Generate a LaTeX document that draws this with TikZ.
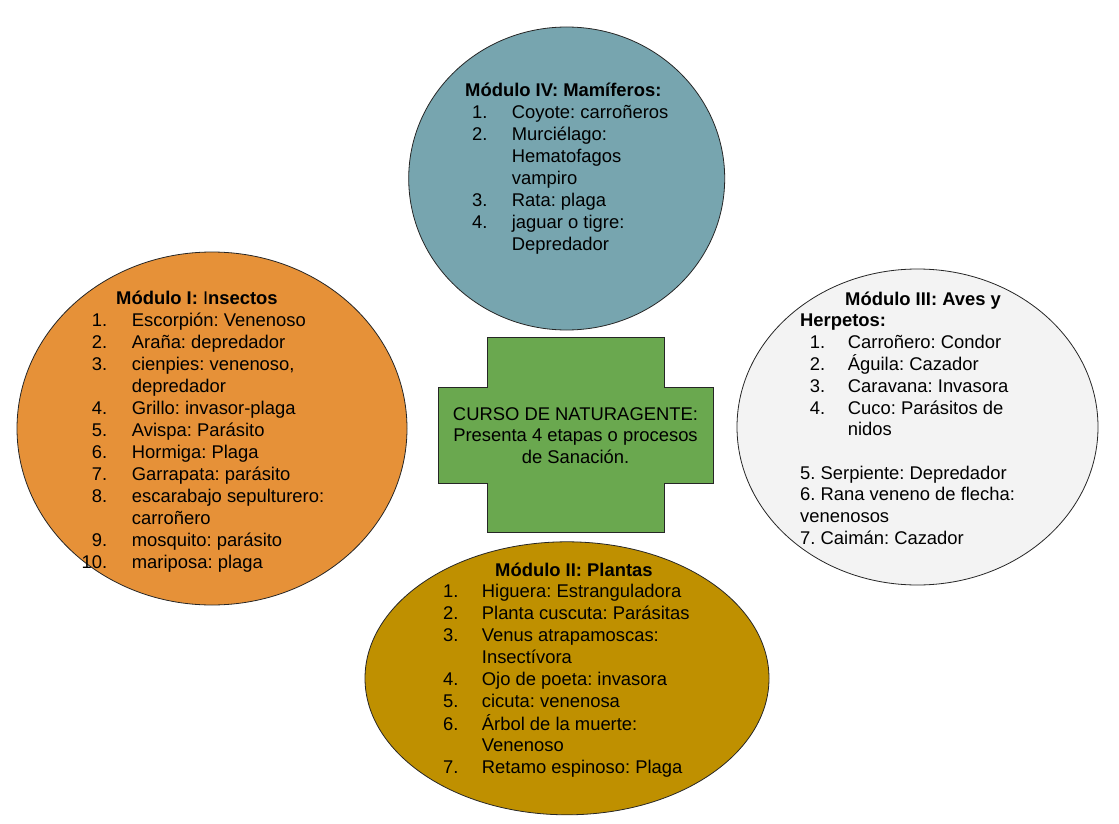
\documentclass[tikz,border=0pt]{standalone}
\usepackage{fontspec}
\setmainfont{Liberation Sans}
\usetikzlibrary{shapes.geometric}
\definecolor{tealc}{HTML}{77A5AF}
\definecolor{orangec}{HTML}{E69138}
\definecolor{grayc}{HTML}{F3F3F3}
\definecolor{ochrec}{HTML}{BF9000}
\definecolor{greenc}{HTML}{6AA84F}
\newlength{\numw}
\newlength{\numg}
\newcommand{\li}[2]{\makebox[\numw][r]{#1}\hspace{\numg}#2}
\newcommand{\lc}[1]{\hspace{\numw}\hspace{\numg}#1}
\frenchspacing
\tikzset{
  module/.style={ellipse, draw=black!85, line width=0.8pt, inner sep=0pt},
  txt/.style={anchor=base west, inner sep=0pt},
}
\begin{document}
\begin{tikzpicture}[x=1pt,y=-1pt]
\useasboundingbox (0,0) rectangle (1119,824);
% ellipses
\node[module, fill=tealc, minimum width=316pt, minimum height=303pt] (m4) at (566.7,178.5) {};
\node[module, fill=orangec, minimum width=390pt, minimum height=353pt] (m1) at (212,428.5) {};
\node[module, fill=grayc, minimum width=361pt, minimum height=316pt] (m3) at (917.5,427) {};
\node[module, fill=ochrec, minimum width=404pt, minimum height=273pt] (m2) at (567,678.3) {};
% cross
\draw[draw=black!85, line width=0.8pt, fill=greenc]
  (487,337) -- (664,337) -- (664,387) -- (713,387) -- (713,483) -- (664,483)
  -- (664,532) -- (487,532) -- (487,483) -- (438,483) -- (438,387) -- (487,387) -- cycle;
% center text
\node[anchor=base, inner sep=0pt] (ct) at (575.5,420) {\fontsize{18.4}{21.7}\selectfont
\begin{tabular}[t]{@{}c@{}}
CURSO DE NATURAGENTE:\\
Presenta 4 etapas o procesos\\
de Sanación.
\end{tabular}};
% Module IV
\node[txt] (t4) at (465,97) {\fontsize{18.4}{21.9}\selectfont
\setlength{\numw}{22.3pt}\setlength{\numg}{24.4pt}%
\begin{tabular}[t]{@{}l@{}}
\textbf{Módulo IV: Mamíferos:}\\
\li{1.}{Coyote: carroñeros}\\
\li{2.}{Murciélago:}\\
\lc{Hematofagos}\\
\lc{vampiro}\\
\li{3.}{Rata: plaga}\\
\li{4.}{jaguar o tigre:}\\
\lc{Depredador}
\end{tabular}};
% Module I
\node[txt] (t1) at (80,304.5) {\fontsize{18.4}{21.98}\selectfont
\setlength{\numw}{27pt}\setlength{\numg}{24.7pt}%
\begin{tabular}[t]{@{}l@{}}
\hspace{36pt}\textbf{Módulo I: }I\textbf{nsectos}\\
\li{1.}{Escorpión: Venenoso}\\
\li{2.}{Araña: depredador}\\
\li{3.}{cienpies: venenoso,}\\
\lc{depredador}\\
\li{4.}{Grillo: invasor-plaga}\\
\li{5.}{Avispa: Parásito}\\
\li{6.}{Hormiga: Plaga}\\
\li{7.}{Garrapata: parásito}\\
\li{8.}{escarabajo sepulturero:}\\
\lc{carroñero}\\
\li{9.}{mosquito: parásito}\\
\li{10.}{mariposa: plaga}
\end{tabular}};
% Module III
\node[txt] (t3) at (800,305) {\fontsize{18.4}{21.67}\selectfont
\setlength{\numw}{25pt}\setlength{\numg}{22.7pt}%
\begin{tabular}[t]{@{}l@{}}
\hspace{45pt}\textbf{Módulo III: Aves y}\\
\textbf{Herpetos:}\\
\li{1.}{Carroñero: Condor}\\
\li{2.}{Águila: Cazador}\\
\li{3.}{Caravana: Invasora}\\
\li{4.}{Cuco: Parásitos de}\\
\lc{nidos}\\
\mbox{}\\
5. Serpiente: Depredador\\
6. Rana veneno de flecha:\\
venenosos\\
7. Caimán: Cazador
\end{tabular}};
% Module II
\node[txt] (t2) at (443,576) {\fontsize{18.4}{21.92}\selectfont
\setlength{\numw}{15.3pt}\setlength{\numg}{23.4pt}%
\begin{tabular}[t]{@{}l@{}}
\hspace{52pt}\textbf{Módulo II: Plantas}\\
\li{1.}{Higuera: Estranguladora}\\
\li{2.}{Planta cuscuta: Parásitas}\\
\li{3.}{Venus atrapamoscas:}\\
\lc{Insectívora}\\
\li{4.}{Ojo de poeta: invasora}\\
\li{5.}{cicuta: venenosa}\\
\li{6.}{Árbol de la muerte:}\\
\lc{Venenoso}\\
\li{7.}{Retamo espinoso: Plaga}
\end{tabular}};
\end{tikzpicture}
\end{document}
